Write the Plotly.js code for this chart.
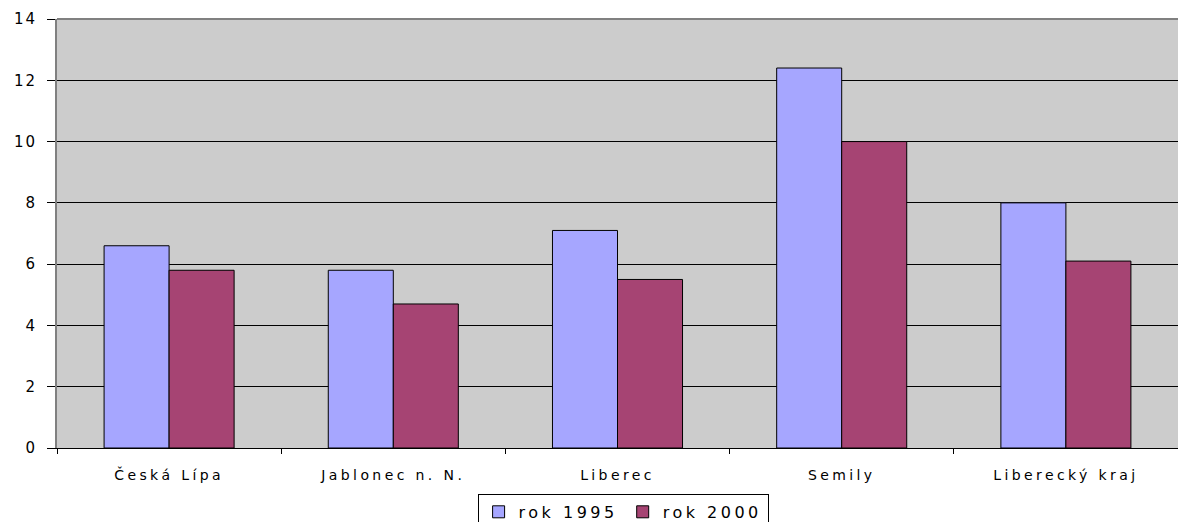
<!DOCTYPE html>
<html>
<head>
<meta charset="utf-8">
<script src="https://cdn.plot.ly/plotly-3.0.1.min.js"></script>
<style>
html,body{margin:0;padding:0;background:#fff;}
#chart{width:1178px;height:522px;}
.xtick text{letter-spacing:3.4px;}
.ytick text{letter-spacing:2px;}
.legendtext{letter-spacing:3.5px;}
</style>
</head>
<body>
<div id="chart"></div>
<script>
const categories = ["Česká Lípa", "Jablonec n. N.", "Liberec", "Semily", "Liberecký kraj"];
const series1995 = [6.6, 5.8, 7.1, 12.4, 8.0];
const series2000 = [5.8, 4.7, 5.5, 10.0, 6.1];
const seriesNames = ["rok 1995", "rok 2000"];
const yTicks = [0, 2, 4, 6, 8, 10, 12, 14];

const font = {family: "DejaVu Sans, Verdana, sans-serif", size: 13, color: "#000"};

const traces = [
  {type: "bar", name: seriesNames[0], x: categories, y: series1995,
   marker: {color: "#A6A6FF", line: {color: "#000", width: 1}}},
  {type: "bar", name: seriesNames[1], x: categories, y: series2000,
   marker: {color: "#A64473", line: {color: "#000", width: 1}}}
];

const layout = {
  width: 1178, height: 522,
  margin: {l: 57, r: 0, t: 19, b: 74, pad: 0, autoexpand: false},
  paper_bgcolor: "#fff",
  plot_bgcolor: "#CCCCCC",
  barmode: "group",
  bargap: 0.42,
  bargroupgap: 0,
  font: font,
  showlegend: true,
  legend: {
    orientation: "h", x: 0.505, xanchor: "center", y: -0.107, yanchor: "top",
    bordercolor: "#000", borderwidth: 1, bgcolor: "#fff",
    font: {family: font.family, size: 16, color: "#000"},
    itemwidth: 30, tracegroupgap: 0
  },
  xaxis: {
    type: "category",
    showgrid: false,
    showline: true, linecolor: "#000", linewidth: 1,
    ticks: "outside", tickson: "boundaries", ticklen: 5, tickcolor: "#000",
    ticklabelstandoff: 14,
    tickfont: {family: font.family, size: 14, color: "#000"},
    zeroline: false, fixedrange: true
  },
  yaxis: {
    range: [0, 14],
    tickvals: yTicks,
    ticktext: yTicks.map(String),
    showgrid: true, gridcolor: "#000", gridwidth: 1,
    showline: true, linecolor: "#808080", linewidth: 2,
    ticks: "outside", ticklen: 8, tickcolor: "#000",
    ticklabelstandoff: 7,
    tickfont: {family: font.family, size: 15, color: "#000"},
    zeroline: false, fixedrange: true
  },
  shapes: [
    {type: "line", xref: "paper", yref: "paper", x0: 0, x1: 1, y0: 1, y1: 1,
     line: {color: "#808080", width: 2}}
  ]
};

Plotly.newPlot("chart", traces, layout, {displayModeBar: false, staticPlot: true});
</script>
</body>
</html>
